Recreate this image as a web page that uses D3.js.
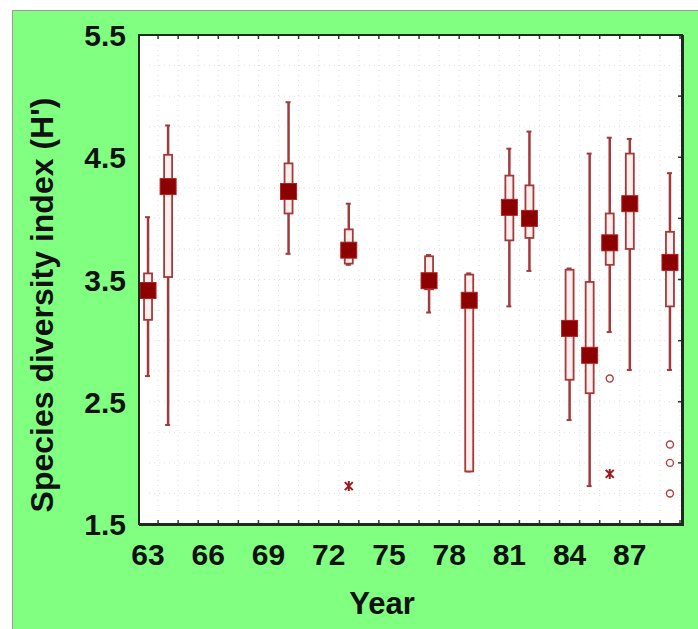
<!DOCTYPE html>
<html>
<head>
<meta charset="utf-8">
<script src="https://cdn.jsdelivr.net/npm/d3@7"></script>
<style>
  body { margin: 0; background: #fff; }
  svg { display: block; font-family: "Liberation Sans", Arial, sans-serif; }
</style>
</head>
<body>
<svg id="chart" width="698" height="629"></svg>
<script>
'use strict';
// box plot data
const years       = [63, 64, 70, 73, 77, 79, 81, 82, 84, 85, 86, 87, 89];
const whiskerLow  = [2.71, 2.31, 3.71, 3.62, 3.23, 1.93, 3.28, 3.57, 2.35, 1.81, 3.07, 2.76, 2.76];
const boxLow      = [3.17, 3.52, 4.04, 3.63, 3.42, 1.93, 3.82, 3.84, 2.68, 2.57, 3.62, 3.75, 3.28];
const boxHigh     = [3.55, 4.52, 4.45, 3.91, 3.69, 3.54, 4.35, 4.27, 3.58, 3.48, 4.04, 4.53, 3.89];
const whiskerHigh = [4.01, 4.76, 4.95, 4.12, 3.70, 3.55, 4.57, 4.71, 3.59, 4.53, 4.66, 4.65, 4.37];
const means       = [3.41, 4.26, 4.22, 3.74, 3.49, 3.33, 4.09, 4.00, 3.10, 2.88, 3.80, 4.12, 3.64];

// outliers (circles) and extremes (stars)
const outlierYears  = [73, 86, 86, 89, 89, 89];
const outlierValues = [1.81, 2.69, 1.91, 2.15, 2.00, 1.75];
const outlierKinds  = ['star', 'circle', 'star', 'circle', 'circle', 'circle'];

const xTickLabels = [63, 66, 69, 72, 75, 78, 81, 84, 87];
const yTickLabels = [1.5, 2.5, 3.5, 4.5, 5.5];

const svg = d3.select("#chart");
const plot = { left: 139, top: 35, right: 682, bottom: 524 };

const x = d3.scaleLinear().domain([62.55, 89.6]).range([plot.left, plot.right]);
const y = d3.scaleLinear().domain([1.5, 5.5]).range([plot.bottom, plot.top]);

const boxColor = "#a33a3a";
const meanColor = "#8b0000";

// green panel
svg.append("rect")
  .attr("x", 12.5).attr("y", 10.5)
  .attr("width", 690).attr("height", 630)
  .attr("fill", "#80ff80")
  .attr("stroke", "#9a9a9a");

// plot area
svg.append("rect")
  .attr("x", plot.left).attr("y", plot.top)
  .attr("width", plot.right - plot.left).attr("height", plot.bottom - plot.top)
  .attr("fill", "#fff");

// faint dotted grid
const halfYears = d3.range(63.5, 89.6, 1);
const gridRows = d3.range(1.75, 5.5, 0.25);
const grid = svg.append("g").attr("stroke", "#dedede").attr("stroke-dasharray", "1,4");
grid.selectAll("line.v").data(halfYears).join("line")
  .attr("class", "v")
  .attr("x1", d => x(d)).attr("x2", d => x(d))
  .attr("y1", plot.top + 10).attr("y2", plot.bottom - 10);
grid.selectAll("line.h").data(gridRows).join("line")
  .attr("class", "h")
  .attr("x1", plot.left + 10).attr("x2", plot.right - 10)
  .attr("y1", d => y(d)).attr("y2", d => y(d));

// minor ticks on the frame
const ticks = svg.append("g").attr("stroke", "#333").attr("stroke-width", 1.5);
ticks.selectAll("line.t").data(halfYears).join("line")
  .attr("class", "t")
  .attr("x1", d => x(d)).attr("x2", d => x(d))
  .attr("y1", plot.top).attr("y2", plot.top + 4);
ticks.selectAll("line.b").data(halfYears).join("line")
  .attr("class", "b")
  .attr("x1", d => x(d)).attr("x2", d => x(d))
  .attr("y1", plot.bottom).attr("y2", plot.bottom - 4);
ticks.selectAll("line.r").data(d3.range(2, 5.5, 0.5)).join("line")
  .attr("class", "r")
  .attr("x1", plot.right).attr("x2", plot.right - 4)
  .attr("y1", d => y(d)).attr("y2", d => y(d));

// boxes
const idx = d3.range(years.length);
const boxes = svg.append("g");
const bw = 8;

boxes.selectAll("line.whisker").data(idx).join("line")
  .attr("class", "whisker")
  .attr("x1", i => x(years[i])).attr("x2", i => x(years[i]))
  .attr("y1", i => y(whiskerLow[i])).attr("y2", i => y(whiskerHigh[i]))
  .attr("stroke", boxColor).attr("stroke-width", 2.5);

boxes.selectAll("line.capHi").data(idx).join("line")
  .attr("class", "capHi")
  .attr("x1", i => x(years[i]) - 3).attr("x2", i => x(years[i]) + 2)
  .attr("y1", i => y(whiskerHigh[i])).attr("y2", i => y(whiskerHigh[i]))
  .attr("stroke", boxColor).attr("stroke-width", 2);

boxes.selectAll("line.capLo").data(idx).join("line")
  .attr("class", "capLo")
  .attr("x1", i => x(years[i]) - 3).attr("x2", i => x(years[i]) + 2)
  .attr("y1", i => y(whiskerLow[i])).attr("y2", i => y(whiskerLow[i]))
  .attr("stroke", boxColor).attr("stroke-width", 2);

boxes.selectAll("rect.box").data(idx).join("rect")
  .attr("class", "box")
  .attr("x", i => x(years[i]) - bw / 2)
  .attr("width", bw)
  .attr("y", i => y(boxHigh[i]))
  .attr("height", i => y(boxLow[i]) - y(boxHigh[i]))
  .attr("fill", "#ffeeee")
  .attr("stroke", boxColor).attr("stroke-width", 1.8);

const ms = 16;
boxes.selectAll("rect.mean").data(idx).join("rect")
  .attr("class", "mean")
  .attr("x", i => x(years[i]) - ms / 2)
  .attr("y", i => y(means[i]) - ms / 2)
  .attr("width", ms).attr("height", ms)
  .attr("fill", meanColor)
  .attr("stroke", "#b02020").attr("stroke-width", 1);

// outliers
const oIdx = d3.range(outlierYears.length);
const marks = svg.append("g");
marks.selectAll("circle").data(oIdx.filter(i => outlierKinds[i] === 'circle')).join("circle")
  .attr("cx", i => x(outlierYears[i]))
  .attr("cy", i => y(outlierValues[i]))
  .attr("r", 3.5)
  .attr("fill", "none")
  .attr("stroke", "#b04040").attr("stroke-width", 1.4);
marks.selectAll("path.star").data(oIdx.filter(i => outlierKinds[i] === 'star')).join("path")
  .attr("class", "star")
  .attr("transform", i => `translate(${x(outlierYears[i])},${y(outlierValues[i])})`)
  .attr("d", "M-4,-4L4,4M-4,4L4,-4M0,-5L0,5")
  .attr("stroke", "#9a1a1a").attr("stroke-width", 2);

// frame
svg.append("rect")
  .attr("x", plot.left).attr("y", plot.top)
  .attr("width", plot.right - plot.left).attr("height", plot.bottom - plot.top)
  .attr("fill", "none")
  .attr("stroke", "#1d2a1d").attr("stroke-width", 2);
svg.append("path")
  .attr("d", `M${plot.right + 1},${plot.top}V${plot.bottom + 1}H${plot.left}`)
  .attr("fill", "none").attr("stroke", "#1d2a1d").attr("stroke-width", 2);

// tick labels
svg.append("g").selectAll("text").data(xTickLabels).join("text")
  .attr("x", d => x(d)).attr("y", 565)
  .attr("text-anchor", "middle")
  .attr("font-size", 30).attr("font-weight", "bold").attr("fill", "#111")
  .text(d => d);

svg.append("g").selectAll("text").data(yTickLabels).join("text")
  .attr("x", 126).attr("y", d => y(d) + 11)
  .attr("text-anchor", "end")
  .attr("font-size", 30).attr("font-weight", "bold").attr("fill", "#111")
  .text(d => d.toFixed(1));

// axis titles
svg.append("text")
  .attr("x", 382).attr("y", 614)
  .attr("text-anchor", "middle")
  .attr("font-size", 31).attr("font-weight", "bold").attr("fill", "#111")
  .text("Year");

svg.append("text")
  .attr("transform", "translate(53,305) rotate(-90)")
  .attr("text-anchor", "middle")
  .attr("font-size", 32).attr("font-weight", "bold").attr("fill", "#111")
  .text("Species diversity index (H')");
</script>
</body>
</html>
